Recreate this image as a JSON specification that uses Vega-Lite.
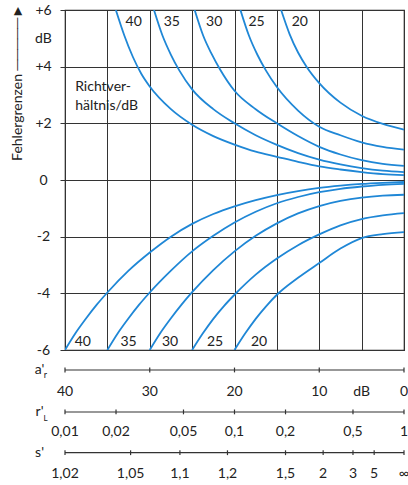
{
  "$schema": "https://vega.github.io/schema/vega-lite/v6.json",
  "width": 339,
  "height": 340,
  "autosize": {"type": "none"},
  "padding": {"left": 65, "top": 10, "right": 4, "bottom": 135},
  "background": "white",
  "config": {
    "font": "Lato",
    "view": {"stroke": "#222", "strokeWidth": 1.2},
    "axis": {"labelFont": "Lato", "titleFont": "Lato"},
    "text": {"font": "Lato", "fontSize": 14, "color": "#222"}
  },
  "datasets": {
    "curves": [
      {"curve": "U40", "a": 34.0, "v": 6}, {"curve": "U40", "a": 33, "v": 5.1}, {"curve": "U40", "a": 32, "v": 4.35}, {"curve": "U40", "a": 31, "v": 3.75}, {"curve": "U40", "a": 30, "v": 3.3}, {"curve": "U40", "a": 27.5, "v": 2.5}, {"curve": "U40", "a": 25, "v": 1.95}, {"curve": "U40", "a": 22.5, "v": 1.55}, {"curve": "U40", "a": 20, "v": 1.25}, {"curve": "U40", "a": 17.5, "v": 1.0}, {"curve": "U40", "a": 15, "v": 0.82}, {"curve": "U40", "a": 12.5, "v": 0.64}, {"curve": "U40", "a": 10, "v": 0.48}, {"curve": "U40", "a": 7.5, "v": 0.37}, {"curve": "U40", "a": 5, "v": 0.28}, {"curve": "U40", "a": 2.5, "v": 0.21}, {"curve": "U40", "a": 0, "v": 0.17},
      {"curve": "U35", "a": 29.5, "v": 6}, {"curve": "U35", "a": 28.5, "v": 5.1}, {"curve": "U35", "a": 27.5, "v": 4.42}, {"curve": "U35", "a": 26.5, "v": 3.86}, {"curve": "U35", "a": 25, "v": 3.2}, {"curve": "U35", "a": 22.5, "v": 2.5}, {"curve": "U35", "a": 20, "v": 2.0}, {"curve": "U35", "a": 17.5, "v": 1.58}, {"curve": "U35", "a": 15, "v": 1.24}, {"curve": "U35", "a": 12.5, "v": 0.95}, {"curve": "U35", "a": 10, "v": 0.72}, {"curve": "U35", "a": 7.5, "v": 0.55}, {"curve": "U35", "a": 5, "v": 0.42}, {"curve": "U35", "a": 2.5, "v": 0.33}, {"curve": "U35", "a": 0, "v": 0.28},
      {"curve": "U30", "a": 24.7, "v": 6}, {"curve": "U30", "a": 23.7, "v": 5.1}, {"curve": "U30", "a": 22.7, "v": 4.45}, {"curve": "U30", "a": 21.7, "v": 3.9}, {"curve": "U30", "a": 20, "v": 3.15}, {"curve": "U30", "a": 17.5, "v": 2.5}, {"curve": "U30", "a": 15, "v": 2.0}, {"curve": "U30", "a": 12.5, "v": 1.55}, {"curve": "U30", "a": 10, "v": 1.17}, {"curve": "U30", "a": 7.5, "v": 0.9}, {"curve": "U30", "a": 5, "v": 0.7}, {"curve": "U30", "a": 2.5, "v": 0.57}, {"curve": "U30", "a": 0, "v": 0.5},
      {"curve": "U25", "a": 19.3, "v": 6}, {"curve": "U25", "a": 18.3, "v": 5.1}, {"curve": "U25", "a": 17.3, "v": 4.42}, {"curve": "U25", "a": 16.3, "v": 3.87}, {"curve": "U25", "a": 15, "v": 3.28}, {"curve": "U25", "a": 12.5, "v": 2.45}, {"curve": "U25", "a": 10, "v": 1.88}, {"curve": "U25", "a": 7.5, "v": 1.58}, {"curve": "U25", "a": 5, "v": 1.33}, {"curve": "U25", "a": 2.5, "v": 1.17}, {"curve": "U25", "a": 0, "v": 1.07},
      {"curve": "U20", "a": 14.5, "v": 6}, {"curve": "U20", "a": 13.5, "v": 5.15}, {"curve": "U20", "a": 12.5, "v": 4.5}, {"curve": "U20", "a": 11.5, "v": 4.0}, {"curve": "U20", "a": 10, "v": 3.42}, {"curve": "U20", "a": 7.5, "v": 2.73}, {"curve": "U20", "a": 5, "v": 2.27}, {"curve": "U20", "a": 2.5, "v": 1.98}, {"curve": "U20", "a": 0, "v": 1.78},
      {"curve": "L40", "a": 40, "v": -6}, {"curve": "L40", "a": 38.75, "v": -5.4}, {"curve": "L40", "a": 37.5, "v": -4.88}, {"curve": "L40", "a": 36.25, "v": -4.4}, {"curve": "L40", "a": 35, "v": -3.97}, {"curve": "L40", "a": 32.5, "v": -3.2}, {"curve": "L40", "a": 30, "v": -2.56}, {"curve": "L40", "a": 27.5, "v": -2.0}, {"curve": "L40", "a": 25, "v": -1.55}, {"curve": "L40", "a": 22.5, "v": -1.2}, {"curve": "L40", "a": 20, "v": -0.93}, {"curve": "L40", "a": 17.5, "v": -0.71}, {"curve": "L40", "a": 15, "v": -0.53}, {"curve": "L40", "a": 12.5, "v": -0.39}, {"curve": "L40", "a": 10, "v": -0.28}, {"curve": "L40", "a": 7.5, "v": -0.2}, {"curve": "L40", "a": 5, "v": -0.14}, {"curve": "L40", "a": 2.5, "v": -0.1}, {"curve": "L40", "a": 0, "v": -0.07},
      {"curve": "L35", "a": 35, "v": -6}, {"curve": "L35", "a": 33.75, "v": -5.4}, {"curve": "L35", "a": 32.5, "v": -4.88}, {"curve": "L35", "a": 31.25, "v": -4.4}, {"curve": "L35", "a": 30, "v": -3.97}, {"curve": "L35", "a": 27.5, "v": -3.2}, {"curve": "L35", "a": 25, "v": -2.52}, {"curve": "L35", "a": 22.5, "v": -1.97}, {"curve": "L35", "a": 20, "v": -1.5}, {"curve": "L35", "a": 17.5, "v": -1.12}, {"curve": "L35", "a": 15, "v": -0.82}, {"curve": "L35", "a": 12.5, "v": -0.6}, {"curve": "L35", "a": 10, "v": -0.43}, {"curve": "L35", "a": 7.5, "v": -0.31}, {"curve": "L35", "a": 5, "v": -0.23}, {"curve": "L35", "a": 2.5, "v": -0.17}, {"curve": "L35", "a": 0, "v": -0.14},
      {"curve": "L30", "a": 30, "v": -6}, {"curve": "L30", "a": 28.75, "v": -5.4}, {"curve": "L30", "a": 27.5, "v": -4.88}, {"curve": "L30", "a": 26.25, "v": -4.4}, {"curve": "L30", "a": 25, "v": -3.96}, {"curve": "L30", "a": 22.5, "v": -3.18}, {"curve": "L30", "a": 20, "v": -2.52}, {"curve": "L30", "a": 17.5, "v": -1.97}, {"curve": "L30", "a": 15, "v": -1.53}, {"curve": "L30", "a": 12.5, "v": -1.18}, {"curve": "L30", "a": 10, "v": -0.92}, {"curve": "L30", "a": 7.5, "v": -0.74}, {"curve": "L30", "a": 5, "v": -0.62}, {"curve": "L30", "a": 2.5, "v": -0.55}, {"curve": "L30", "a": 0, "v": -0.52},
      {"curve": "L25", "a": 25, "v": -6}, {"curve": "L25", "a": 23.75, "v": -5.42}, {"curve": "L25", "a": 22.5, "v": -4.9}, {"curve": "L25", "a": 21.25, "v": -4.45}, {"curve": "L25", "a": 20, "v": -4.05}, {"curve": "L25", "a": 17.5, "v": -3.34}, {"curve": "L25", "a": 15, "v": -2.77}, {"curve": "L25", "a": 12.5, "v": -2.3}, {"curve": "L25", "a": 10, "v": -1.92}, {"curve": "L25", "a": 7.5, "v": -1.6}, {"curve": "L25", "a": 5, "v": -1.38}, {"curve": "L25", "a": 2.5, "v": -1.25}, {"curve": "L25", "a": 0, "v": -1.17},
      {"curve": "L20", "a": 20, "v": -6}, {"curve": "L20", "a": 18.75, "v": -5.42}, {"curve": "L20", "a": 17.5, "v": -4.9}, {"curve": "L20", "a": 16.25, "v": -4.45}, {"curve": "L20", "a": 15, "v": -4.05}, {"curve": "L20", "a": 12.5, "v": -3.45}, {"curve": "L20", "a": 10, "v": -2.93}, {"curve": "L20", "a": 7.5, "v": -2.42}, {"curve": "L20", "a": 5, "v": -2.05}, {"curve": "L20", "a": 2.5, "v": -1.91}, {"curve": "L20", "a": 0, "v": -1.84}
    ],
    "curveLabels": [
      {"label": "40", "a": 31.9, "v": 5.58}, {"label": "35", "a": 27.4, "v": 5.58}, {"label": "30", "a": 22.4, "v": 5.58}, {"label": "25", "a": 17.4, "v": 5.58}, {"label": "20", "a": 12.3, "v": 5.58},
      {"label": "40", "a": 37.9, "v": -5.72}, {"label": "35", "a": 32.5, "v": -5.72}, {"label": "30", "a": 27.6, "v": -5.72}, {"label": "25", "a": 22.3, "v": -5.72}, {"label": "20", "a": 17.1, "v": -5.72}
    ],
    "notes": [
      {"text": "Richtver-", "a": 38.8, "v": 3.28},
      {"text": "hältnis/dB", "a": 38.8, "v": 2.61}
    ],
    "aScale": [
      {"a": 40, "label": "40"}, {"a": 30, "label": "30"}, {"a": 20, "label": "20"}, {"a": 10, "label": "10"}, {"a": 5, "label": "dB"}, {"a": 0, "label": "0"}
    ],
    "rScale": [
      {"a": 40, "label": "0,01"}, {"a": 33.98, "label": "0,02"}, {"a": 26.02, "label": "0,05"}, {"a": 20, "label": "0,1"}, {"a": 13.98, "label": "0,2"}, {"a": 6.02, "label": "0,5"}, {"a": 0, "label": "1"}
    ],
    "sScale": [
      {"a": 40, "label": "1,02"}, {"a": 32.26, "label": "1,05"}, {"a": 26.44, "label": "1,1"}, {"a": 20.83, "label": "1,2"}, {"a": 13.98, "label": "1,5"}, {"a": 9.54, "label": "2"}, {"a": 6.02, "label": "3"}, {"a": 3.52, "label": "5"}, {"a": 0, "label": "∞"}
    ]
  },
  "layer": [
    {
      "data": {"name": "curves"},
      "mark": {"type": "line", "interpolate": "monotone", "color": "#1f87d6", "strokeWidth": 1.8, "clip": true},
      "encoding": {
        "x": {"field": "a", "type": "quantitative", "scale": {"domain": [0, 40], "reverse": true, "nice": false, "zero": false},
          "axis": {"values": [0, 5, 10, 15, 20, 25, 30, 35, 40], "labels": false, "ticks": false, "domain": false, "title": null, "grid": true, "gridColor": "#333", "gridWidth": 1}},
        "y": {"field": "v", "type": "quantitative", "scale": {"domain": [-6, 6], "nice": false, "zero": false},
          "axis": {"values": [-6, -4, -2, 0, 2, 4, 5, 6], "grid": true, "gridColor": "#333", "gridWidth": 1,
            "gridOpacity": {"condition": {"test": "datum.value == 5", "value": 0}, "value": 1},
            "tickOpacity": {"condition": {"test": "datum.value == 5", "value": 0}, "value": 1},
            "tickColor": "#333", "tickSize": 5, "domain": false,
            "labelExpr": "datum.value == 5 ? 'dB' : datum.value > 0 ? '+' + datum.value : datum.value < 0 ? '-' + abs(datum.value) : '0'",
            "labelAlign": "center", "labelBaseline": "middle", "labelPadding": 17, "labelFontSize": 14, "labelColor": "#222", "labelOverlap": false,
            "title": "Fehlergrenzen  ─────►", "titleFontSize": 14, "titleFontWeight": "normal", "titleColor": "#222",
            "titleAngle": -90, "titleX": -48, "titleY": 72, "titleAlign": "center", "titleBaseline": "middle"}},
        "detail": {"field": "curve"}
      }
    },
    {
      "data": {"name": "curveLabels"},
      "mark": {"type": "text", "align": "center", "baseline": "middle"},
      "encoding": {
        "x": {"field": "a", "type": "quantitative", "scale": {"domain": [0, 40], "reverse": true, "nice": false, "zero": false}},
        "y": {"field": "v", "type": "quantitative", "scale": {"domain": [-6, 6], "nice": false, "zero": false}},
        "text": {"field": "label"}
      }
    },
    {
      "data": {"name": "notes"},
      "mark": {"type": "text", "align": "left", "baseline": "middle"},
      "encoding": {
        "x": {"field": "a", "type": "quantitative"},
        "y": {"field": "v", "type": "quantitative"},
        "text": {"field": "text"}
      }
    },
    {
      "data": {"values": [{}]},
      "mark": {"type": "rule", "color": "#333", "strokeWidth": 1.2, "clip": false},
      "encoding": {"x": {"datum": 40}, "x2": {"datum": 0}, "y": {"datum": -6.706}}
    },
    {
      "data": {"values": [{}]},
      "mark": {"type": "rule", "color": "#333", "strokeWidth": 1.2, "clip": false},
      "encoding": {"x": {"datum": 40}, "x2": {"datum": 0}, "y": {"datum": -8.188}}
    },
    {
      "data": {"values": [{}]},
      "mark": {"type": "rule", "color": "#333", "strokeWidth": 1.2, "clip": false},
      "encoding": {"x": {"datum": 40}, "x2": {"datum": 0}, "y": {"datum": -9.625}}
    },
    {
      "data": {"name": "aScale"},
      "transform": [{"filter": "datum.label != 'dB'"}],
      "mark": {"type": "rule", "color": "#333", "strokeWidth": 1.2, "clip": false},
      "encoding": {"x": {"field": "a", "type": "quantitative"}, "y": {"datum": -6.62}, "y2": {"datum": -6.79}}
    },
    {
      "data": {"name": "rScale"},
      "mark": {"type": "rule", "color": "#333", "strokeWidth": 1.2, "clip": false},
      "encoding": {"x": {"field": "a", "type": "quantitative"}, "y": {"datum": -8.10}, "y2": {"datum": -8.27}}
    },
    {
      "data": {"name": "sScale"},
      "mark": {"type": "rule", "color": "#333", "strokeWidth": 1.2, "clip": false},
      "encoding": {"x": {"field": "a", "type": "quantitative"}, "y": {"datum": -9.54}, "y2": {"datum": -9.71}}
    },
    {
      "data": {"name": "aScale"},
      "mark": {"type": "text", "align": "center", "baseline": "middle", "clip": false},
      "encoding": {"x": {"field": "a", "type": "quantitative"}, "y": {"datum": -7.48}, "text": {"field": "label"}}
    },
    {
      "data": {"name": "rScale"},
      "mark": {"type": "text", "align": "center", "baseline": "middle", "clip": false},
      "encoding": {"x": {"field": "a", "type": "quantitative"}, "y": {"datum": -8.894}, "text": {"field": "label"}}
    },
    {
      "data": {"name": "sScale"},
      "mark": {"type": "text", "align": "center", "baseline": "middle", "clip": false},
      "encoding": {"x": {"field": "a", "type": "quantitative"}, "y": {"datum": -10.376}, "text": {"field": "label"}}
    },
    {
      "data": {"values": [{"t": "a'"}]},
      "mark": {"type": "text", "align": "center", "baseline": "middle", "clip": false},
      "encoding": {"x": {"datum": 43.0}, "y": {"datum": -6.72}, "text": {"field": "t"}}
    },
    {
      "data": {"values": [{"t": "r"}]},
      "mark": {"type": "text", "align": "center", "baseline": "middle", "fontSize": 9, "clip": false},
      "encoding": {"x": {"datum": 42.3}, "y": {"datum": -6.88}, "text": {"field": "t"}}
    },
    {
      "data": {"values": [{"t": "r'"}]},
      "mark": {"type": "text", "align": "center", "baseline": "middle", "clip": false},
      "encoding": {"x": {"datum": 43.0}, "y": {"datum": -8.2}, "text": {"field": "t"}}
    },
    {
      "data": {"values": [{"t": "L"}]},
      "mark": {"type": "text", "align": "center", "baseline": "middle", "fontSize": 8, "clip": false},
      "encoding": {"x": {"datum": 42.3}, "y": {"datum": -8.42}, "text": {"field": "t"}}
    },
    {
      "data": {"values": [{"t": "s'"}]},
      "mark": {"type": "text", "align": "center", "baseline": "middle", "clip": false},
      "encoding": {"x": {"datum": 43.0}, "y": {"datum": -9.64}, "text": {"field": "t"}}
    }
  ]
}
